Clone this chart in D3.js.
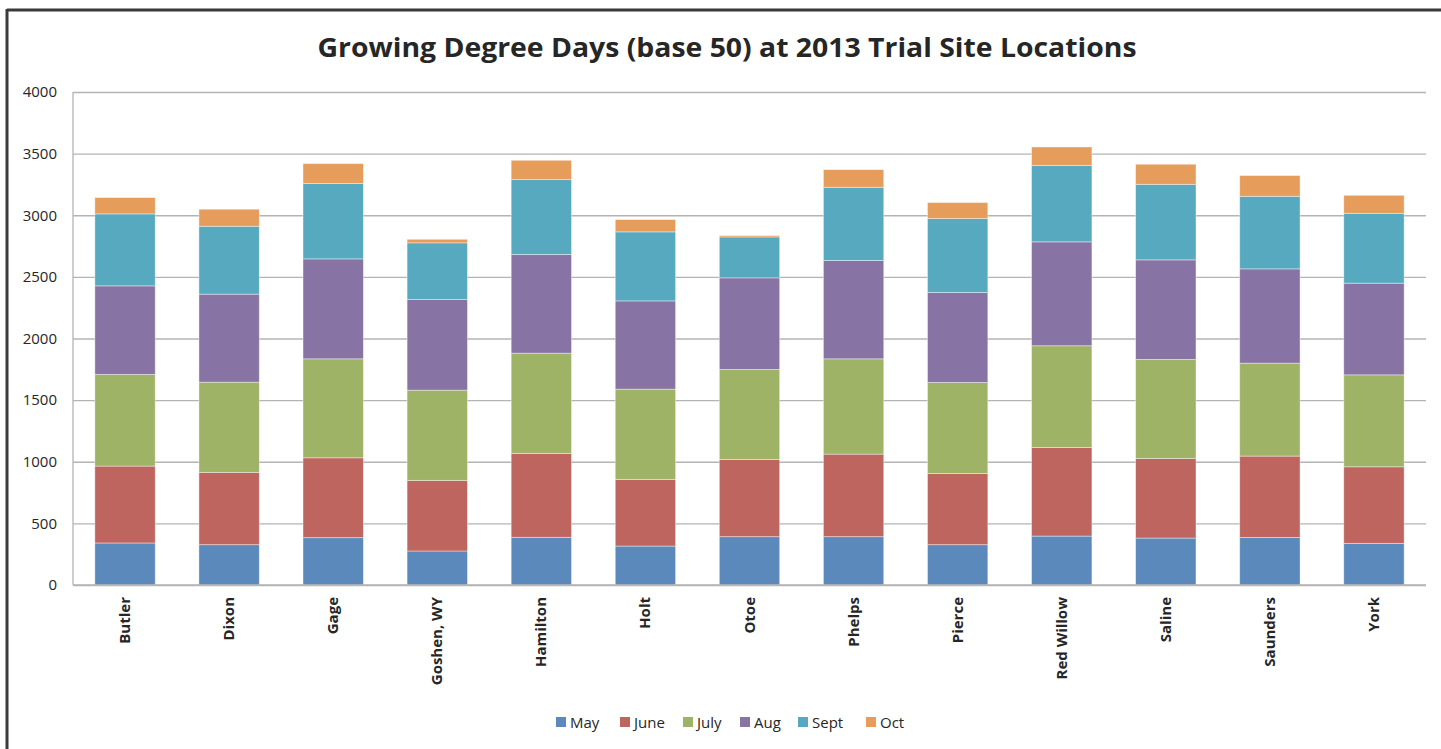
<!DOCTYPE html>
<html>
<head>
	<meta charset="utf-8">
	<title>Growing Degree Days</title>
	<style>
		body { margin: 0; background: #fff; }
		.title { font-family: 'Open Sans', sans-serif; font-weight: 700; fill: #262626; }
		.tick text { font-family: 'Open Sans', sans-serif; font-size: 15px; fill: #262626; }
		.cat { font-family: 'Open Sans', sans-serif; font-weight: 700; font-size: 15px; fill: #262626; }
		.legend text { font-family: 'Open Sans', sans-serif; font-size: 15px; fill: #262626; }
	</style>
</head>
<body>
	<svg width="1441" height="749"></svg>
<script src="https://d3js.org/d3.v7.min.js"></script>
<script>

	const sites = ['Butler', 'Dixon', 'Gage', 'Goshen, WY', 'Hamilton', 'Holt', 'Otoe',
		'Phelps', 'Pierce', 'Red Willow', 'Saline', 'Saunders', 'York'];
	const months = ['May', 'June', 'July', 'Aug', 'Sept', 'Oct'];

	// GDD per month, one value per site (same order as sites)
	const may  = [341, 327, 384, 276, 387, 316, 392, 392, 327, 397, 381, 386, 338];
	const june = [624, 587, 648, 573, 681, 541, 627, 670, 578, 719, 646, 660, 621];
	const july = [743, 732, 803, 732, 813, 732, 730, 773, 738, 825, 803, 754, 746];
	const aug  = [719, 714, 811, 735, 800, 716, 743, 798, 730, 843, 808, 765, 744];
	const sept = [584, 551, 611, 460, 608, 560, 332, 594, 600, 621, 613, 589, 567];
	const oct  = [132, 138, 162,  29, 157, 100,  11, 143, 130, 149, 163, 168, 146];

	const yTicks = [0, 500, 1000, 1500, 2000, 2500, 3000, 3500, 4000];
	const colors = ['#5B89BB', '#BE6560', '#9FB366', '#8874A4', '#57A9BF', '#E69C5A'];

	const series = [may, june, july, aug, sept, oct];
	const rows = sites.map((s, i) => {
		const r = {site: s};
		months.forEach((m, j) => r[m] = series[j][i]);
		return r;
	});

	const svg = d3.select('svg');

	// frame
	svg.append('line').attr('x1', 7).attr('x2', 1441).attr('y1', 10).attr('y2', 10)
		.attr('stroke', '#3a3a3a').attr('stroke-width', 3);
	svg.append('line').attr('x1', 7).attr('x2', 7).attr('y1', 9).attr('y2', 749)
		.attr('stroke', '#3a3a3a').attr('stroke-width', 3);

	const plotL = 73, plotR = 1426, plotT = 92, plotB = 585;

	const x = d3.scaleBand().domain(sites).range([plotL, plotR]).paddingInner(0.42).paddingOuter(0.21);
	const y = d3.scaleLinear().domain([0, 4000]).range([plotB, plotT]);

	svg.append('text').attr('class', 'title')
		.attr('x', 727).attr('y', 57)
		.attr('text-anchor', 'middle')
		.attr('font-size', 27)
		.attr('textLength', 819).attr('lengthAdjust', 'spacingAndGlyphs')
		.text('Growing Degree Days (base 50) at 2013 Trial Site Locations');

	// gridlines + y labels
	const yAxis = svg.append('g')
		.attr('transform', `translate(${plotL},0)`)
		.call(d3.axisLeft(y).tickValues(yTicks).tickFormat(d3.format('d'))
			.tickSize(-(plotR - plotL)).tickPadding(16));
	yAxis.select('.domain').remove();
	yAxis.selectAll('.tick line').attr('stroke', '#b4b4b4').attr('stroke-width', 1.3);

	svg.append('line').attr('x1', plotL).attr('x2', plotL).attr('y1', plotT).attr('y2', plotB)
		.attr('stroke', '#b4b4b4').attr('stroke-width', 1.3);

	const stacked = d3.stack().keys(months)(rows);

	svg.append('g').selectAll('g')
		.data(stacked)
		.join('g')
		.attr('fill', (d, i) => colors[i])
		.selectAll('rect')
		.data(d => d)
		.join('rect')
		.attr('x', d => x(d.data.site))
		.attr('width', x.bandwidth())
		.attr('y', d => y(d[1]))
		.attr('height', d => y(d[0]) - y(d[1]))
		.attr('stroke', 'rgba(255,255,255,0.5)')
		.attr('stroke-width', 0.8);

	// baseline over bars
	svg.append('line').attr('x1', plotL).attr('x2', plotR).attr('y1', plotB).attr('y2', plotB)
		.attr('stroke', '#b4b4b4').attr('stroke-width', 1.3);

	// category labels (rotated)
	svg.append('g').selectAll('text')
		.data(sites)
		.join('text')
		.attr('class', 'cat')
		.attr('transform', d => `translate(${x(d) + x.bandwidth() / 2 + 5},597) rotate(-90)`)
		.attr('text-anchor', 'end')
		.text(d => d);

	// legend
	const legX = [556, 620, 683, 740, 798, 866];
	const leg = svg.append('g').attr('class', 'legend');
	months.forEach((m, i) => {
		leg.append('rect').attr('x', legX[i]).attr('y', 717).attr('width', 10).attr('height', 10)
			.attr('fill', colors[i]);
		leg.append('text').attr('x', legX[i] + 14).attr('y', 727.5).text(m);
	});

</script>
</body>
</html>
